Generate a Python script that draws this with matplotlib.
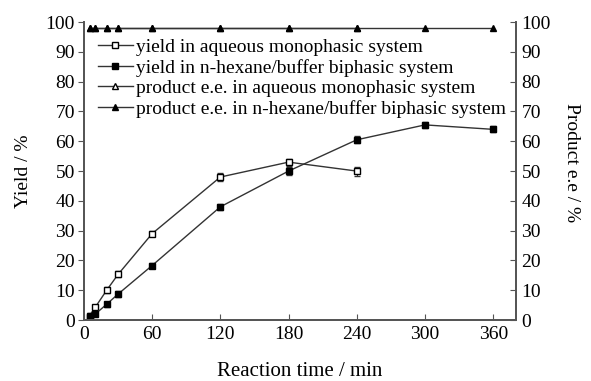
import matplotlib
matplotlib.use("Agg")
import matplotlib.pyplot as plt
import numpy as np

plt.rcParams['font.family'] = ['Liberation Serif', 'DejaVu Serif']
plt.rcParams['font.size'] = 14

# yield in aqueous monophasic system
t_aq = [5, 10, 20, 30, 60, 120, 180, 240]
yield_aq = [1.5, 4.3, 10, 15.3, 29, 48, 53, 50]
yield_aq_err = [0.8, 0.8, 1.0, 1.0, 0.8, 1.5, 1.2, 1.5]

# yield in n-hexane/buffer biphasic system
t_bi = [5, 10, 20, 30, 60, 120, 180, 240, 300, 360]
yield_bi = [1.0, 2.0, 5.3, 8.7, 18.3, 38, 50, 60.5, 65.5, 64]
yield_bi_err = [0.6, 0.6, 0.8, 1.0, 1.0, 1.0, 1.2, 1.2, 1.0, 1.0]

# product e.e.
ee_aq = [98, 98, 98, 98, 98, 98, 98, 98]
ee_bi = [98, 98, 98, 98, 98, 98, 98, 98, 98, 98]

labels = ["yield in aqueous monophasic system",
          "yield in n-hexane/buffer biphasic system",
          "product e.e. in aqueous monophasic system",
          "product e.e. in n-hexane/buffer biphasic system"]

c = '#333333'
fig = plt.figure(figsize=(5.91, 3.81), dpi=100)
ax = fig.add_axes([0.142, 0.160, 0.731, 0.782])
ax2 = ax.twinx()

ax.errorbar(t_aq, yield_aq, yerr=yield_aq_err, fmt='none', ecolor=c, capsize=2, elinewidth=0.8)
ax.errorbar(t_bi, yield_bi, yerr=yield_bi_err, fmt='none', ecolor=c, capsize=2, elinewidth=0.8)
h1, = ax.plot(t_aq, yield_aq, color=c, lw=1.0, marker='s', ms=5, mfc='white', mec='black', mew=1.0)
h2, = ax.plot(t_bi, yield_bi, color=c, lw=1.0, marker='s', ms=5, mfc='black', mec='black')
h3, = ax.plot(t_aq, ee_aq, color=c, lw=1.0, marker='^', ms=5, mfc='white', mec='black')
h4, = ax.plot(t_bi, ee_bi, color=c, lw=1.0, marker='^', ms=5, mfc='black', mec='black')

for a in (ax, ax2):
    a.set_xlim(0, 380)
    a.set_ylim(0, 100)
    a.spines['top'].set_visible(False)
    for s in a.spines.values():
        s.set_color('#555555')
        s.set_linewidth(1.3)

ax.set_xticks([0, 60, 120, 180, 240, 300, 360])
ax.set_yticks(np.arange(0, 101, 10))
ax2.set_yticks(np.arange(0, 101, 10))
ax.tick_params(axis='y', direction='out', length=4.5, color='#555555', pad=2)
ax.tick_params(axis='x', direction='in', length=4.5, color='#555555', pad=4)
ax2.tick_params(axis='y', direction='in', length=4.5, color='#555555', pad=4)

ax.set_xlabel("Reaction time / min", fontsize=15, labelpad=14)
ax.set_ylabel("Yield / %", labelpad=10)
ax2.set_ylabel("Product e.e / %", rotation=270, va='center')
ax2.yaxis.set_label_coords(1.128, 0.53)

ax.legend([h1, h2, h3, h4], labels, loc='upper left', bbox_to_anchor=(0.0, 0.99), frameon=False,
          handlelength=1.8, handletextpad=0.2, labelspacing=0.14, borderaxespad=0.3)

fig.savefig("out.png", dpi=100)
